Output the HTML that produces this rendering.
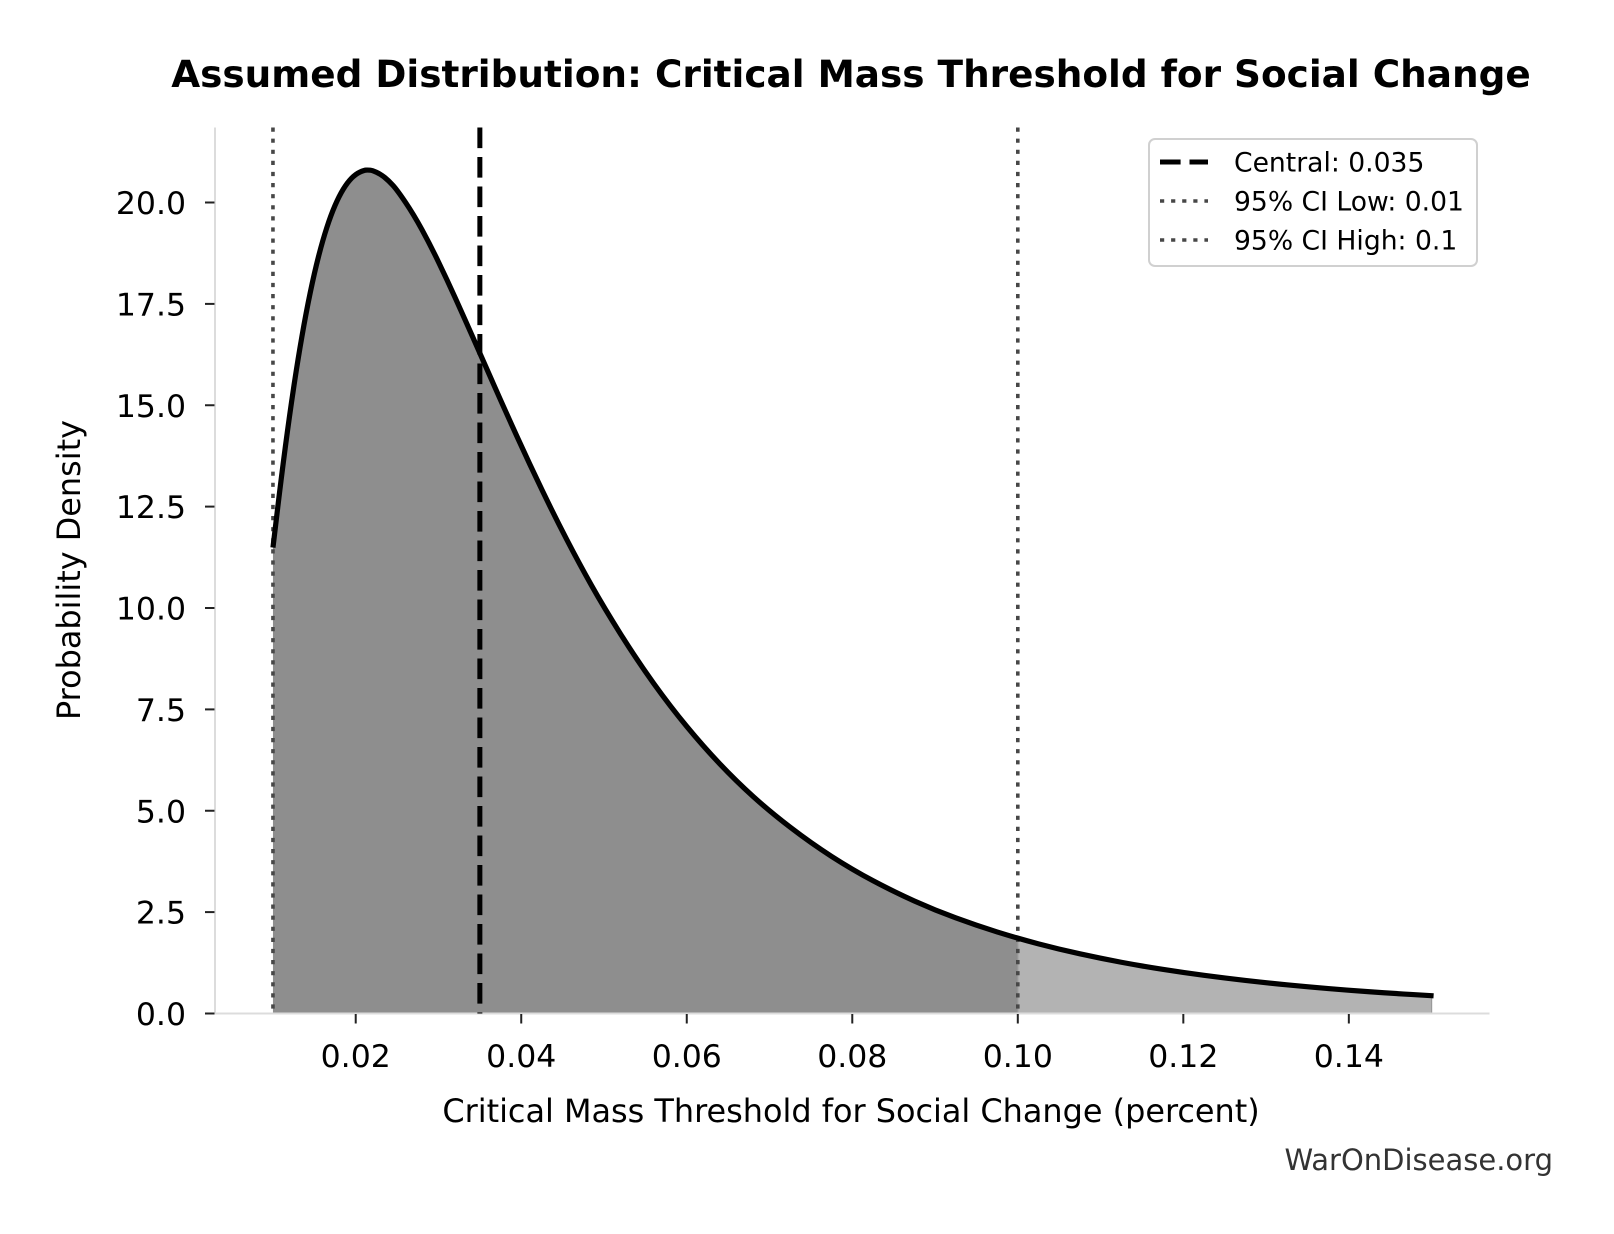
<!DOCTYPE html>
<html>
<head>
<meta charset="utf-8">
<style>
  html, body { margin: 0; padding: 0; background: #ffffff; }
  svg { display: block; }
  text { font-family: "DejaVu Sans", "Liberation Sans", sans-serif; fill: #000; }
</style>
</head>
<body>
<svg width="1614" height="1234" viewBox="0 0 1614 1234" xmlns="http://www.w3.org/2000/svg">
  <rect x="0" y="0" width="1614" height="1234" fill="#ffffff"/>

  <!-- Title -->
  <text x="851" y="87" font-size="37.4" font-weight="bold" text-anchor="middle">Assumed Distribution: Critical Mass Threshold for Social Change</text>

  <!-- Fills -->
  <path fill="#8e8e8e" d="M272.96,1013.5 L272.96,547.6 L277.10,512.8 Q281.24,478.0 285.38,446.65 Q289.51,415.3 293.65,387.7 Q297.79,360.1 301.93,336.4 Q306.06,312.7 310.2,292.8 Q314.34,272.9 318.48,256.7 Q322.62,240.5 326.76,227.75 Q330.89,215.0 335.03,205.45 Q339.17,195.9 343.31,189.15 Q347.44,182.4 351.58,178.2 Q355.72,174.0 359.86,172.1 Q364.0,170.2 366.07,170.1 Q368.13,170.0 370.2,170.2 Q372.27,170.4 376.41,172.25 Q380.55,174.1 384.69,177.45 Q388.82,180.8 392.96,185.35 Q397.1,189.9 405.38,202.15 Q413.65,214.4 421.93,229.6 Q430.2,244.8 438.48,261.95 Q446.76,279.1 455.04,297.4 Q463.31,315.7 471.59,334.45 Q479.86,353.2 492.28,381.35 Q504.69,409.5 517.11,436.75 Q529.52,464.0 541.93,489.8 Q554.34,515.6 566.76,539.55 Q579.17,563.5 591.59,585.55 Q604.0,607.6 620.55,633.95 Q637.1,660.3 653.65,683.35 Q670.2,706.4 686.75,726.45 Q703.3,746.5 719.85,763.9 Q736.4,781.3 752.95,796.3 Q769.5,811.3 790.2,827.2 Q810.9,843.1 831.6,856.4 Q852.3,869.7 873.0,880.7 Q893.7,891.7 914.35,900.95 Q935.0,910.2 955.7,917.85 Q976.4,925.5 997.1,931.95 L1017.8,938.4 L1017.8,1013.5 Z"/>
  <path fill="#b3b3b3" stroke="#9a9a9a" stroke-width="1.2" d="M1017.8,1013.5 L1017.8,938.4 L1038.5,943.85 Q1059.2,949.3 1079.9,953.85 Q1100.6,958.4 1121.25,962.25 Q1141.9,966.1 1162.6,969.35 Q1183.3,972.6 1204.0,975.35 Q1224.7,978.1 1245.4,980.45 Q1266.1,982.8 1286.8,984.8 Q1307.5,986.8 1328.15,988.55 Q1348.8,990.3 1369.5,991.75 Q1390.2,993.2 1410.9,994.45 L1431.6,995.7 L1431.6,1013.5 Z"/>

  <!-- Spines -->
  <line x1="215" y1="127.5" x2="215" y2="1014.5" stroke="#dcdcdc" stroke-width="2"/>
  <line x1="214" y1="1013.5" x2="1489.5" y2="1013.5" stroke="#dcdcdc" stroke-width="2"/>

  <!-- Vertical reference lines -->
  <line x1="272.96" y1="127.5" x2="272.96" y2="1013.5" stroke="#474747" stroke-width="3.6" stroke-dasharray="4.2 6.9"/>
  <line x1="1017.8" y1="127.5" x2="1017.8" y2="1013.5" stroke="#474747" stroke-width="3.6" stroke-dasharray="4.2 6.9"/>
  <line x1="479.86" y1="127.5" x2="479.86" y2="1013.5" stroke="#000" stroke-width="5" stroke-dasharray="20.6 8.9"/>

  <!-- Curve -->
  <path fill="none" stroke="#000" stroke-width="5.2" stroke-linejoin="round" d="M272.96,547.6 L277.10,512.8 Q281.24,478.0 285.38,446.65 Q289.51,415.3 293.65,387.7 Q297.79,360.1 301.93,336.4 Q306.06,312.7 310.2,292.8 Q314.34,272.9 318.48,256.7 Q322.62,240.5 326.76,227.75 Q330.89,215.0 335.03,205.45 Q339.17,195.9 343.31,189.15 Q347.44,182.4 351.58,178.2 Q355.72,174.0 359.86,172.1 Q364.0,170.2 366.07,170.1 Q368.13,170.0 370.2,170.2 Q372.27,170.4 376.41,172.25 Q380.55,174.1 384.69,177.45 Q388.82,180.8 392.96,185.35 Q397.1,189.9 405.38,202.15 Q413.65,214.4 421.93,229.6 Q430.2,244.8 438.48,261.95 Q446.76,279.1 455.04,297.4 Q463.31,315.7 471.59,334.45 Q479.86,353.2 492.28,381.35 Q504.69,409.5 517.11,436.75 Q529.52,464.0 541.93,489.8 Q554.34,515.6 566.76,539.55 Q579.17,563.5 591.59,585.55 Q604.0,607.6 620.55,633.95 Q637.1,660.3 653.65,683.35 Q670.2,706.4 686.75,726.45 Q703.3,746.5 719.85,763.9 Q736.4,781.3 752.95,796.3 Q769.5,811.3 790.2,827.2 Q810.9,843.1 831.6,856.4 Q852.3,869.7 873.0,880.7 Q893.7,891.7 914.35,900.95 Q935.0,910.2 955.7,917.85 Q976.4,925.5 997.1,931.95 Q1017.8,938.4 1038.5,943.85 Q1059.2,949.3 1079.9,953.85 Q1100.6,958.4 1121.25,962.25 Q1141.9,966.1 1162.6,969.35 Q1183.3,972.6 1204.0,975.35 Q1224.7,978.1 1245.4,980.45 Q1266.1,982.8 1286.8,984.8 Q1307.5,986.8 1328.15,988.55 Q1348.8,990.3 1369.5,991.75 Q1390.2,993.2 1410.9,994.45 L1433.6,995.8"/>

  <!-- X ticks -->
  <g stroke="#222" stroke-width="2">
    <line x1="355.72" y1="1014" x2="355.72" y2="1023.5"/>
    <line x1="521.24" y1="1014" x2="521.24" y2="1023.5"/>
    <line x1="686.76" y1="1014" x2="686.76" y2="1023.5"/>
    <line x1="852.28" y1="1014" x2="852.28" y2="1023.5"/>
    <line x1="1017.8" y1="1014" x2="1017.8" y2="1023.5"/>
    <line x1="1183.32" y1="1014" x2="1183.32" y2="1023.5"/>
    <line x1="1348.84" y1="1014" x2="1348.84" y2="1023.5"/>
  </g>
  <g font-size="31.5" text-anchor="middle">
    <text x="355.72" y="1067">0.02</text>
    <text x="521.24" y="1067">0.04</text>
    <text x="686.76" y="1067">0.06</text>
    <text x="852.28" y="1067">0.08</text>
    <text x="1017.8" y="1067">0.10</text>
    <text x="1183.32" y="1067">0.12</text>
    <text x="1348.84" y="1067">0.14</text>
  </g>

  <!-- Y ticks -->
  <g stroke="#222" stroke-width="2">
    <line x1="205" y1="1013.5" x2="214.5" y2="1013.5"/>
    <line x1="205" y1="912.1" x2="214.5" y2="912.1"/>
    <line x1="205" y1="810.75" x2="214.5" y2="810.75"/>
    <line x1="205" y1="709.4" x2="214.5" y2="709.4"/>
    <line x1="205" y1="608" x2="214.5" y2="608"/>
    <line x1="205" y1="506.6" x2="214.5" y2="506.6"/>
    <line x1="205" y1="405.25" x2="214.5" y2="405.25"/>
    <line x1="205" y1="303.9" x2="214.5" y2="303.9"/>
    <line x1="205" y1="202.5" x2="214.5" y2="202.5"/>
  </g>
  <g font-size="31.5" text-anchor="end">
    <text x="186" y="1025">0.0</text>
    <text x="186" y="923.6">2.5</text>
    <text x="186" y="822.25">5.0</text>
    <text x="186" y="720.9">7.5</text>
    <text x="186" y="619.5">10.0</text>
    <text x="186" y="518.1">12.5</text>
    <text x="186" y="416.75">15.0</text>
    <text x="186" y="315.4">17.5</text>
    <text x="186" y="214">20.0</text>
  </g>

  <!-- Axis labels -->
  <text x="851" y="1122" font-size="31.9" text-anchor="middle">Critical Mass Threshold for Social Change (percent)</text>
  <text x="0" y="0" font-size="31.9" text-anchor="middle" transform="translate(80,570) rotate(-90)">Probability Density</text>

  <!-- Legend -->
  <rect x="1149" y="139" width="328" height="127" rx="6" ry="6" fill="#ffffff" fill-opacity="0.85" stroke="#d0d0d0" stroke-width="2"/>
  <line x1="1160" y1="162" x2="1208" y2="162" stroke="#000" stroke-width="5" stroke-dasharray="20.6 8.9"/>
  <line x1="1160" y1="201" x2="1208" y2="201" stroke="#474747" stroke-width="3.6" stroke-dasharray="4.2 6.9"/>
  <line x1="1160" y1="240" x2="1208" y2="240" stroke="#474747" stroke-width="3.6" stroke-dasharray="4.2 6.9"/>
  <g font-size="26.6">
    <text x="1234" y="171.5">Central: 0.035</text>
    <text x="1234" y="210.5">95% CI Low: 0.01</text>
    <text x="1234" y="249.5">95% CI High: 0.1</text>
  </g>

  <!-- Watermark -->
  <text x="1553" y="1170" font-size="29" text-anchor="end" style="fill:#333333">WarOnDisease.org</text>
</svg>
</body>
</html>
